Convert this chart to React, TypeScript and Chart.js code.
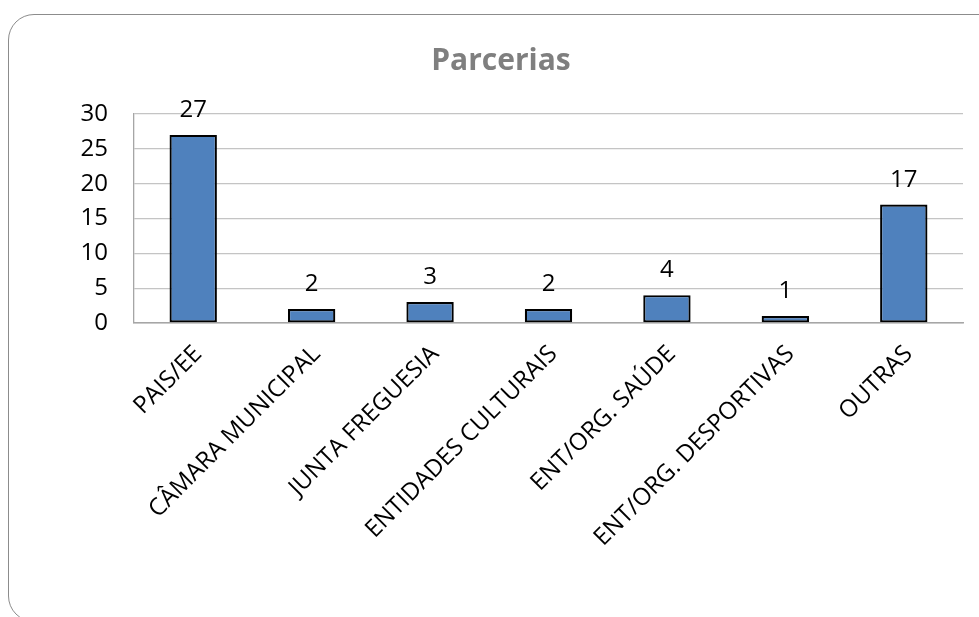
import React, { useEffect, useRef } from "react";
import { Chart, registerables } from "chart.js";

Chart.register(...registerables);

const categories = [
  "PAIS/EE",
  "CÂMARA MUNICIPAL",
  "JUNTA FREGUESIA",
  "ENTIDADES CULTURAIS",
  "ENT/ORG. SAÚDE",
  "ENT/ORG. DESPORTIVAS",
  "OUTRAS",
];
const values = [27, 2, 3, 2, 4, 1, 17];
const titleText = "Parcerias";
const yMin = 0;
const yMax = 30;
const yStep = 5;

const FONT = "'Open Sans', 'Noto Sans', sans-serif";

const valueLabels = {
  id: "valueLabels",
  afterDatasetsDraw(chart: any) {
    const ctx = chart.ctx;
    const meta = chart.getDatasetMeta(0);
    ctx.save();
    ctx.fillStyle = "#000";
    ctx.font = `24px ${FONT}`;
    ctx.textAlign = "center";
    ctx.textBaseline = "alphabetic";
    meta.data.forEach((bar: any, i: number) => {
      const v = chart.data.datasets[0].data[i];
      ctx.fillText(String(v), bar.x, bar.y - 18);
    });
    ctx.restore();
  },
};

export default function App() {
  const ref = useRef<HTMLCanvasElement | null>(null);

  useEffect(() => {
    if (!ref.current) return;
    const chart = new Chart(ref.current, {
      type: "bar",
      data: {
        labels: categories,
        datasets: [
          {
            data: values,
            backgroundColor: "#4f81bd",
            borderColor: "#000000",
            borderWidth: 2.2,
            borderSkipped: false,
            barPercentage: 0.4,
            categoryPercentage: 1.0,
          },
        ],
      },
      options: {
        responsive: false,
        animation: false,
        layout: { padding: { left: 39, right: 16, top: 0, bottom: 0 } },
        plugins: {
          legend: { display: false },
          tooltip: { enabled: false },
          title: {
            display: true,
            text: titleText,
            color: "#7f7f7f",
            font: { family: FONT, size: 30, weight: "bold" },
            padding: { top: 43, bottom: 35 },
          },
        },
        scales: {
          x: {
            grid: { display: false, drawTicks: false },
            border: { display: true, color: "#a6a6a6", width: 1.5 },
            ticks: {
              color: "#000",
              font: { family: FONT, size: 24 },
              minRotation: 45,
              maxRotation: 45,
              autoSkip: false,
              padding: 17,
              labelOffset: 5,
            },
            afterFit(scale: any) {
              scale.height = 294;
            },
          },
          y: {
            min: yMin,
            max: yMax,
            grid: { color: "#c4c4c4", lineWidth: 1.3, drawTicks: false },
            border: { display: true, color: "#a6a6a6", width: 1.3 },
            ticks: {
              stepSize: yStep,
              color: "#000",
              font: { family: FONT, size: 24 },
              padding: 26,
            },
            afterFit(scale: any) {
              scale.width = 95;
            },
          },
        },
      },
      plugins: [valueLabels],
    });
    return () => chart.destroy();
  }, []);

  return (
    <div
      style={{
        position: "fixed",
        left: 0,
        top: 0,
        width: 979,
        height: 617,
        overflow: "hidden",
        background: "#fff",
      }}
    >
      <div
        style={{
          position: "absolute",
          left: 8,
          top: 14,
          width: 1010,
          height: 608,
          border: "1.5px solid #8c8c8c",
          borderRadius: 26,
          boxSizing: "border-box",
        }}
      />
      <canvas
        ref={ref}
        width={979}
        height={617}
        style={{ position: "absolute", left: 0, top: 0, width: 979, height: 617 }}
      />
    </div>
  );
}
